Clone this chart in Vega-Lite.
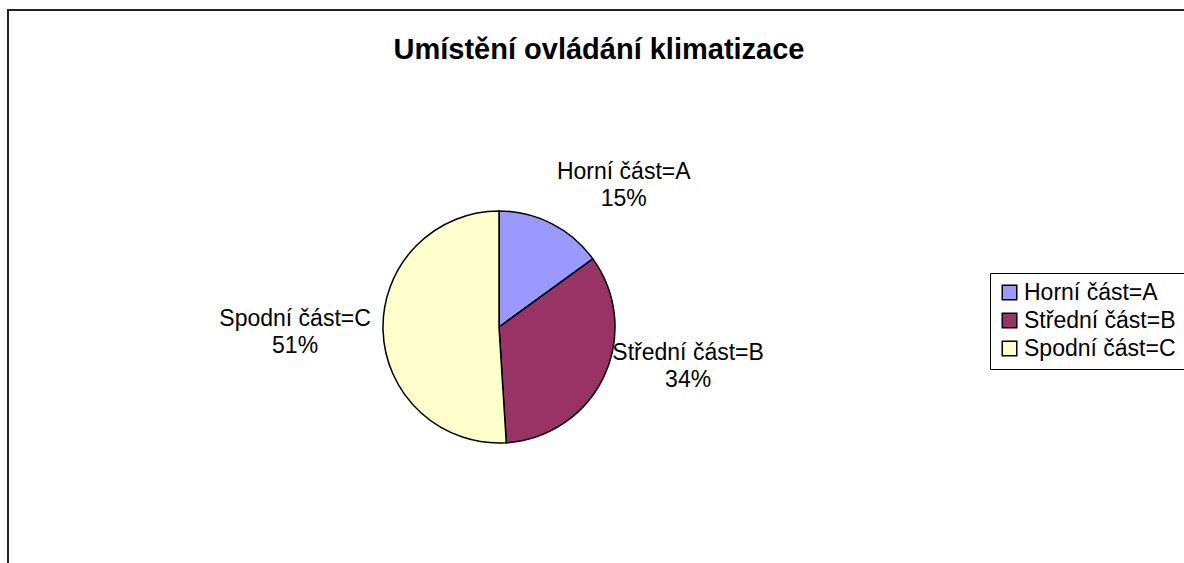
{
  "$schema": "https://vega.github.io/schema/vega-lite/v6.json",
  "autosize": {"type": "none"},
  "padding": {"left": 8, "top": 10, "right": 0, "bottom": 0},
  "width": 1200,
  "height": 600,
  "background": "white",
  "config": {
    "view": {"stroke": null},
    "font": "Liberation Sans"
  },
  "title": {
    "text": "Umístění ovládání klimatizace",
    "font": "Liberation Sans",
    "fontSize": 29,
    "fontWeight": "bold",
    "color": "black",
    "anchor": "middle",
    "baseline": "middle",
    "dx": -9,
    "dy": 74
  },
  "data": {
    "values": [
      {"cat": "Horní část=A", "pct": 15, "label": "Horní část=A\n15%", "ord": 1},
      {"cat": "Střední část=B", "pct": 34, "label": "Střední část=B\n34%", "ord": 2},
      {"cat": "Spodní část=C", "pct": 51, "label": "Spodní část=C\n51%", "ord": 3}
    ]
  },
  "layer": [
    {
      "data": {"values": [{"frame": 1}]},
      "mark": {"type": "rect", "fill": null, "stroke": "#222222", "strokeWidth": 2},
      "encoding": {
        "x": {"value": 0},
        "x2": {"value": "width"},
        "y": {"value": 0},
        "y2": {"value": "height"}
      }
    },
    {
      "mark": {"type": "arc", "x": 491, "y": 317, "outerRadius": 116, "stroke": "black", "strokeWidth": 1.5},
      "encoding": {
        "theta": {"field": "pct", "type": "quantitative", "stack": true},
        "order": {"field": "ord", "type": "quantitative"},
        "color": {
          "field": "cat",
          "type": "nominal",
          "scale": {
            "domain": ["Horní část=A", "Střední část=B", "Spodní část=C"],
            "range": ["#9999FF", "#993366", "#FFFFCC"]
          },
          "legend": {
            "orient": "none",
            "legendX": 982,
            "legendY": 263,
            "title": null,
            "strokeColor": "black",
            "fillColor": "white",
            "padding": 8,
            "symbolType": "square",
            "symbolSize": 210,
            "symbolStrokeColor": "black",
            "symbolStrokeWidth": 1.5,
            "symbolOpacity": 1,
            "labelFont": "Liberation Sans",
            "labelFontSize": 23,
            "labelColor": "black",
            "labelLimit": 300,
            "labelOffset": 3,
            "rowPadding": 4
          }
        }
      }
    },
    {
      "mark": {"type": "text", "x": 491, "y": 317, "radius": 125, "fontSize": 23, "lineBreak": "\n", "lineHeight": 27, "color": "black", "align": "center", "baseline": "middle", "dx": 68, "dy": -44},
      "encoding": {
        "theta": {"field": "pct", "type": "quantitative", "stack": true},
        "order": {"field": "ord", "type": "quantitative"},
        "text": {"condition": {"test": "datum.ord === 1", "field": "label"}, "value": ""}
      }
    },
    {
      "mark": {"type": "text", "x": 491, "y": 317, "radius": 125, "fontSize": 23, "lineBreak": "\n", "lineHeight": 27, "color": "black", "align": "center", "baseline": "middle", "dx": 76, "dy": -27},
      "encoding": {
        "theta": {"field": "pct", "type": "quantitative", "stack": true},
        "order": {"field": "ord", "type": "quantitative"},
        "text": {"condition": {"test": "datum.ord === 2", "field": "label"}, "value": ""}
      }
    },
    {
      "mark": {"type": "text", "x": 491, "y": 317, "radius": 125, "fontSize": 23, "lineBreak": "\n", "lineHeight": 27, "color": "black", "align": "center", "baseline": "middle", "dx": -79, "dy": -12},
      "encoding": {
        "theta": {"field": "pct", "type": "quantitative", "stack": true},
        "order": {"field": "ord", "type": "quantitative"},
        "text": {"condition": {"test": "datum.ord === 3", "field": "label"}, "value": ""}
      }
    }
  ]
}
